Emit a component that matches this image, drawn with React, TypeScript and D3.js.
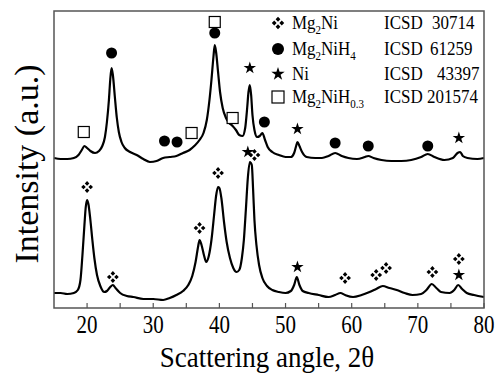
import * as d3 from "d3";

// 2θ (deg), intensity (a.u.) — hydrided sample (upper trace)
const TOP_PATTERN: [number, number][] = [
  [15.0, 150], [16.0, 149], [17.0, 149], [18.0, 150], [18.7, 153], [19.2, 158], [19.6, 162],
  [20.0, 160], [20.5, 157], [21.2, 155], [21.8, 157], [22.3, 162], [22.7, 171], [23.0, 186],
  [23.3, 208], [23.5, 228], [23.7, 240], [23.9, 233], [24.2, 211], [24.5, 190], [24.8, 176],
  [25.2, 166], [25.7, 160], [26.5, 156], [27.5, 153], [28.5, 149], [29.5, 146], [30.5, 147],
  [31.5, 150], [32.5, 151], [33.5, 152], [34.5, 155], [35.5, 158], [36.2, 162], [37.0, 168],
  [37.6, 175], [38.1, 188], [38.5, 208], [38.8, 228], [39.1, 251], [39.3, 263], [39.5, 256],
  [39.8, 236], [40.1, 216], [40.5, 200], [41.0, 190], [41.5, 185], [42.0, 182], [42.5, 178],
  [43.0, 173], [43.5, 172], [43.9, 180], [44.2, 200], [44.4, 216], [44.6, 223], [44.8, 213],
  [45.0, 193], [45.3, 178], [45.7, 171], [46.1, 172], [46.5, 175], [46.9, 168], [47.3, 161],
  [48.0, 156], [49.0, 153], [50.0, 151], [50.8, 151], [51.3, 155], [51.6, 162], [51.8, 166],
  [52.1, 162], [52.5, 156], [53.2, 151], [54.5, 150], [55.5, 150], [56.5, 152], [57.5, 155],
  [58.5, 152], [59.5, 150], [60.8, 149], [62.0, 151], [62.5, 152], [63.3, 150], [64.5, 148],
  [66.0, 147], [67.5, 147], [69.0, 148], [70.5, 151], [71.5, 154], [72.5, 151], [74.0, 148],
  [75.3, 150], [76.0, 155], [76.4, 156], [76.8, 152], [77.5, 150], [79.0, 149], [80.0, 150],
];

// milled Mg2Ni sample (lower trace)
const BOTTOM_PATTERN: [number, number][] = [
  [15.0, 15], [16.0, 15], [17.0, 14], [18.0, 15], [18.6, 18], [19.0, 28], [19.3, 53],
  [19.6, 83], [19.8, 101], [20.0, 108], [20.2, 104], [20.5, 88], [20.8, 68], [21.1, 50],
  [21.5, 33], [22.0, 22], [22.6, 16], [23.0, 17], [23.5, 21], [23.9, 23], [24.3, 20],
  [25.0, 15], [26.0, 12], [27.0, 11], [28.5, 9], [30.0, 9], [31.5, 8], [32.5, 10],
  [33.5, 13], [34.5, 17], [35.3, 23], [35.9, 32], [36.4, 46], [36.8, 62], [37.0, 68],
  [37.3, 63], [37.7, 52], [38.0, 46], [38.4, 52], [38.8, 68], [39.2, 93], [39.5, 112],
  [39.8, 121], [40.0, 120], [40.3, 110], [40.7, 86], [41.1, 66], [41.6, 50], [42.1, 40],
  [42.6, 36], [43.0, 38], [43.4, 50], [43.7, 68], [44.0, 98], [44.3, 130], [44.6, 146],
  [44.9, 143], [45.1, 118], [45.3, 88], [45.6, 63], [46.0, 43], [46.5, 30], [47.2, 22],
  [48.0, 18], [49.0, 16], [50.0, 15], [50.8, 17], [51.3, 23], [51.7, 31], [52.1, 23],
  [52.6, 17], [53.5, 15], [55.0, 13], [56.5, 11], [57.5, 13], [58.3, 15], [59.0, 13],
  [60.2, 11], [61.5, 13], [62.7, 16], [63.7, 19], [64.7, 22], [65.7, 20], [66.8, 18],
  [68.0, 15], [69.2, 13], [70.5, 14], [71.3, 18], [72.1, 24], [72.8, 20], [73.5, 16],
  [74.8, 15], [75.5, 18], [76.1, 23], [76.7, 19], [77.4, 15], [78.5, 13], [80.0, 11],
];

// phase markers: [2θ, height]
const MG2NIH03_MARKS: [number, number][] = [[19.5, 176], [35.8, 175], [39.3, 286], [42.0, 190]];
const MG2NIH4_MARKS: [number, number][] = [
  [23.7, 255], [31.7, 167], [33.6, 166], [39.3, 275], [46.8, 186], [57.5, 165], [62.5, 162], [71.5, 162],
];
const NI_MARKS: [number, number][] = [
  [44.6, 240], [51.8, 179], [76.2, 170], [44.3, 156], [51.8, 41], [76.2, 33],
];
const MG2NI_MARKS: [number, number][] = [
  [20.0, 121], [23.9, 31], [37.0, 80], [39.8, 135], [45.3, 153], [59.0, 30], [63.7, 33],
  [65.2, 40], [72.2, 36], [76.2, 49],
];

const X_TICKS = [20, 30, 40, 50, 60, 70, 80];
const X_MINOR = [25, 35, 45, 55, 65, 75];

const LEGEND_PHASES = ["Mg2Ni", "Mg2NiH4", "Ni", "Mg2NiH0.3"];
const LEGEND_ICSD = ["30714", "61259", "43397", "201574"];

const W = 497;
const H = 374;
const M = { left: 54, right: 484, top: 11, bottom: 308 };
const FONT = "Liberation Serif";

function diamondCluster(cx: number, cy: number, s = 1) {
  const o = 3.6 * s;
  const h = 2.3 * s;
  return [[0, -o], [o, 0], [0, o], [-o, 0]]
    .map(([dx, dy]) => {
      const x = cx + dx, y = cy + dy;
      return `M${x},${y - h}L${x + h},${y}L${x},${y + h}L${x - h},${y}Z`;
    })
    .join("");
}

const starPath = d3.symbol(d3.symbolStar, 48)()!;
const starPathLg = d3.symbol(d3.symbolStar, 56)()!;

function Marker({ kind, x, y, lg }: { kind: string; x: number; y: number; lg?: boolean }) {
  if (kind === "Mg2Ni") return <path d={diamondCluster(x, y, lg ? 1.05 : 1)} fill="#000" />;
  if (kind === "Mg2NiH4") return <circle cx={x} cy={y} r={lg ? 6 : 5.5} fill="#000" />;
  if (kind === "Ni") return <path d={lg ? starPathLg : starPath} transform={`translate(${x},${y})`} fill="#000" />;
  const s = lg ? 12 : 11;
  return <rect x={x - s / 2} y={y - s / 2} width={s} height={s} fill="#fff" stroke="#000" strokeWidth={1.2} />;
}

function PhaseLabel({ name, x }: { name: string; x: number }) {
  if (name === "Ni") return <text x={x} y={0}>Ni</text>;
  return (
    <text x={x} y={0}>
      Mg<tspan dy={4} fontSize={11}>2</tspan>
      <tspan dy={-4}>Ni</tspan>
      {name === "Mg2NiH4" && (
        <>
          H<tspan dy={4} fontSize={11}>4</tspan>
        </>
      )}
      {name === "Mg2NiH0.3" && (
        <>
          H<tspan dy={4} fontSize={11}>0.3</tspan>
        </>
      )}
    </text>
  );
}

export default function App() {
  const x = d3.scaleLinear().domain([15, 80]).range([M.left, M.right]);
  const y = d3.scaleLinear().domain([0, 297]).range([M.bottom, M.top]);
  const line = d3
    .line<[number, number]>()
    .x((d) => x(d[0]))
    .y((d) => y(d[1]))
    .curve(d3.curveMonotoneX);

  const legendRows = [29, 55, 80, 103];

  return (
    <svg
      width={W}
      height={H}
      style={{ position: "absolute", left: 0, top: 0, background: "#fff", fontFamily: FONT }}
    >
      <rect x={0} y={0} width={W} height={H} fill="#fff" />

      {/* traces */}
      <path d={line(TOP_PATTERN)!} fill="none" stroke="#000" strokeWidth={2.2} strokeLinejoin="round" />
      <path d={line(BOTTOM_PATTERN)!} fill="none" stroke="#000" strokeWidth={2.2} strokeLinejoin="round" />

      {/* phase markers */}
      {MG2NIH03_MARKS.map((d, i) => <Marker key={`s${i}`} kind="Mg2NiH0.3" x={x(d[0])} y={y(d[1])} />)}
      {MG2NIH4_MARKS.map((d, i) => <Marker key={`c${i}`} kind="Mg2NiH4" x={x(d[0])} y={y(d[1])} />)}
      {NI_MARKS.map((d, i) => <Marker key={`n${i}`} kind="Ni" x={x(d[0])} y={y(d[1])} />)}
      {MG2NI_MARKS.map((d, i) => <Marker key={`d${i}`} kind="Mg2Ni" x={x(d[0])} y={y(d[1])} />)}

      {/* frame */}
      <rect
        x={M.left}
        y={M.top}
        width={M.right - M.left}
        height={M.bottom - M.top}
        fill="none"
        stroke="#555"
        strokeWidth={1.5}
      />
      {X_TICKS.concat(X_MINOR).map((t) => (
        <line key={t} x1={x(t)} x2={x(t)} y1={M.bottom} y2={M.bottom - 5} stroke="#555" strokeWidth={1.2} />
      ))}
      {X_TICKS.map((t) => (
        <text key={t} transform={`translate(${x(t)},333) scale(1,1.15)`} textAnchor="middle" fontSize={21}>
          {t}
        </text>
      ))}

      <text transform="translate(267,367) scale(1,1.1)" textAnchor="middle" fontSize={27}>
        Scattering angle, 2θ
      </text>
      <text transform="translate(38,164) rotate(-90)" textAnchor="middle" fontSize={34}>
        Intensity (a.u.)
      </text>

      {/* legend */}
      {LEGEND_PHASES.map((p, i) => (
        <g key={p}>
          <Marker kind={p} x={278} y={legendRows[i] - 6} lg />
          <g transform={`translate(0,${legendRows[i]}) scale(1,1.15)`} fontSize={17}>
            <PhaseLabel name={p} x={292} />
            <text x={384} y={0}>ICSD</text>
            <text x={[432, 430, 437, 427][i]} y={0}>{LEGEND_ICSD[i]}</text>
          </g>
        </g>
      ))}
    </svg>
  );
}
